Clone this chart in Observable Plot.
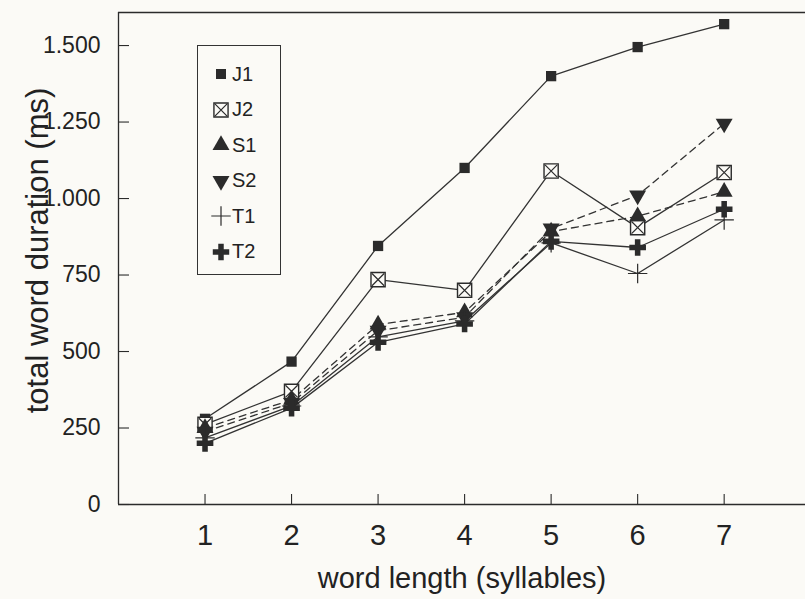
<!DOCTYPE html>
<html>
<head>
<meta charset="utf-8">
<script src="https://cdn.jsdelivr.net/npm/d3@7"></script>
<script src="https://cdn.jsdelivr.net/npm/@observablehq/plot@0.6"></script>
<style>
  html, body { margin: 0; padding: 0; background: #fbfaf6; }
  #wrap { position: relative; width: 805px; height: 599px; font-family: "Liberation Sans", Arial, sans-serif; color: #222; }
  #legend { position: absolute; left: 197px; top: 45px; width: 84px; height: 230px; border: 1.3px solid #333; box-sizing: border-box; }
  .item { position: absolute; left: 14px; height: 24px; display: flex; align-items: center; font-size: 20px; }
  .item svg { overflow: visible; margin-right: 2px; }
</style>
</head>
<body>
<div id="wrap"><div id="legend"></div></div>
<script>
const syllables = [1, 2, 3, 4, 5, 6, 7];
const seriesNames = ["J1", "J2", "S1", "S2", "T1", "T2"];
const J1 = [280, 467, 845, 1100, 1400, 1495, 1570];
const J2 = [262, 370, 735, 700, 1090, 905, 1085];
const S1 = [250, 342, 588, 628, 892, 942, 1022];
const S2 = [238, 332, 568, 612, 902, 1010, 1245];
const T1 = [218, 322, 548, 600, 855, 755, 930];
const T2 = [200, 315, 530, 590, 860, 840, 965];
const yTicks = [0, 250, 500, 750, 1000, 1250, 1500];
const xTicks = [1, 2, 3, 4, 5, 6, 7];
const dashedSeries = ["S1", "S2"];

const values = {J1, J2, S1, S2, T1, T2};
const rows = seriesNames.flatMap(s => syllables.map((x, i) => ({x, v: values[s][i], s})));
const of = s => rows.filter(r => r.s === s);

const ink = "#2b2b2b";
const font = '"Liberation Sans", Arial, sans-serif';
const fmt = d => d3.format(",")(d).replace(/,/g, ".");

const chart = Plot.plot({
  width: 805,
  height: 599,
  marginLeft: 118,
  marginRight: 0,
  marginTop: 12,
  marginBottom: 95,
  style: {background: "transparent", fontFamily: font, color: "#222"},
  x: {domain: [0, 7.94], axis: null},
  y: {domain: [0, 1608], axis: null},
  marks: [
    Plot.ruleY([0], {stroke: ink, strokeWidth: 1.3}),
    Plot.ruleX([0], {stroke: ink, strokeWidth: 1.3}),
    Plot.ruleY([1608], {stroke: ink, strokeWidth: 1.3}),
    Plot.axisY(yTicks, {label: null, tickSize: -11, tickFormat: () => "", stroke: ink, strokeWidth: 1.1}),
    Plot.axisY(yTicks, {label: null, tickSize: 0, tickPadding: 18, tickFormat: fmt, fontSize: 23, fill: "#222", ariaLabel: "ytl"}),
    Plot.axisX(xTicks, {label: null, tickSize: -10, tickFormat: () => "", stroke: ink, strokeWidth: 1.1}),
    Plot.axisX(xTicks, {label: null, tickSize: 0, tickPadding: 20, tickFormat: d => String(d), fontSize: 29, fill: "#222"}),
    Plot.text(["total word duration (ms)"], {frameAnchor: "left", textAnchor: "middle", rotate: -90, dx: -80, dy: -8, fontSize: 31, fill: "#222"}),
    Plot.text(["word length (syllables)"], {frameAnchor: "bottom", textAnchor: "middle", dy: 83, fontSize: 29, fill: "#222"}),
    ...seriesNames.map(s => Plot.line(of(s), {
      x: "x", y: "v", stroke: "#333", strokeWidth: 1.3,
      strokeDasharray: dashedSeries.includes(s) ? "7,5" : null
    })),
    Plot.dot(of("J1"), {x: "x", y: "v", symbol: "square", r: 5.8, fill: ink}),
    Plot.dot(of("J2"), {x: "x", y: "v", symbol: "square", r: 8, fill: "#fbfaf6", stroke: ink, strokeWidth: 1.4}),
    Plot.dot(of("J2"), {x: "x", y: "v", symbol: "times", r: 5.6, stroke: ink, strokeWidth: 1.2}),
    Plot.dot(of("S1"), {x: "x", y: "v", symbol: "triangle", r: 6.3, fill: ink}),
    Plot.dot(of("S2"), {x: "x", y: "v", symbol: "triangle", r: 6.3, fill: ink, rotate: 180}),
    Plot.dot(of("T1"), {x: "x", y: "v", symbol: "plus", r: 6.3, stroke: ink, strokeWidth: 1.2}),
    Plot.dot(of("T2"), {x: "x", y: "v", symbol: "cross", r: 7, fill: ink})
  ]
});
document.getElementById("wrap").prepend(chart);

// condensed look for the y tick labels (scale horizontally about the right-aligned anchor)
d3.select(chart).selectAll('g[aria-label="ytl"] text').each(function() {
  const t = this.getAttribute("transform") || "";
  this.setAttribute("transform", t + " scale(0.8,1)");
});

// legend
const legend = d3.select("#legend");
const sym = (t, size) => d3.symbol(t, size)();
const legendSymbols = {
  J1: g => g.append("path").attr("d", sym(d3.symbolSquare, 100)).attr("fill", ink),
  J2: g => { g.append("path").attr("d", sym(d3.symbolSquare, 200)).attr("fill", "none").attr("stroke", ink).attr("stroke-width", 1.4);
             g.append("path").attr("d", sym(d3.symbolTimes, 98)).attr("fill", "none").attr("stroke", ink).attr("stroke-width", 1.2); },
  S1: g => g.append("path").attr("d", sym(d3.symbolTriangle, 125)).attr("fill", ink),
  S2: g => g.append("path").attr("d", sym(d3.symbolTriangle, 125)).attr("fill", ink).attr("transform", "rotate(180)"),
  T1: g => g.append("path").attr("d", sym(d3.symbolPlus, 125)).attr("fill", "none").attr("stroke", ink).attr("stroke-width", 1.2),
  T2: g => g.append("path").attr("d", sym(d3.symbolCross, 150)).attr("fill", ink)
};
seriesNames.forEach((s, i) => {
  const item = legend.append("div").attr("class", "item").style("top", (16 + i * 35.5) + "px");
  const svg = item.append("svg").attr("width", 18).attr("height", 18);
  const g = svg.append("g").attr("transform", "translate(9,9)");
  legendSymbols[s](g);
  item.append("span").text(s);
});
</script>
</body>
</html>
